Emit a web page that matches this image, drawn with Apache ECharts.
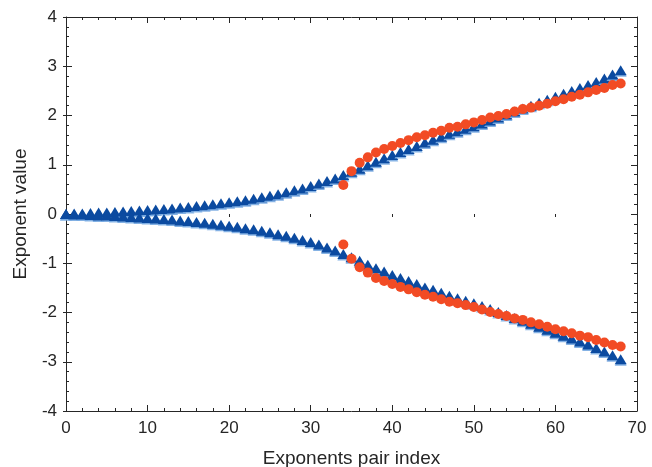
<!DOCTYPE html>
<html>
<head>
<meta charset="utf-8">
<script src="https://cdn.jsdelivr.net/npm/echarts@6/dist/echarts.min.js"></script>
<style>html,body{margin:0;padding:0;background:#fff}#c{width:652px;height:467px}</style>
</head>
<body>
<div id="c"></div>
<script>
var blueIndex = [];
for (var k = 0; k <= 68; k++) blueIndex.push(k);
var redIndex = [];
for (var k2 = 34; k2 <= 68; k2++) redIndex.push(k2);

var blueUpper = [0.00,0.01,0.01,0.02,0.03,0.03,0.04,0.05,0.06,0.07,
  0.08,0.09,0.10,0.11,0.13,0.14,0.16,0.18,0.20,0.22,
  0.24,0.26,0.28,0.31,0.34,0.37,0.40,0.44,0.48,0.52,
  0.57,0.62,0.67,0.72,0.79,0.86,0.92,0.99,1.06,1.13,
  1.20,1.26,1.32,1.38,1.45,1.51,1.57,1.63,1.68,1.73,
  1.78,1.84,1.90,1.96,2.02,2.08,2.14,2.20,2.26,2.32,
  2.38,2.44,2.50,2.56,2.62,2.68,2.75,2.83,2.92];
var blueLower = [0.00,-0.01,-0.01,-0.02,-0.03,-0.03,-0.04,-0.05,-0.06,-0.07,
  -0.08,-0.09,-0.10,-0.11,-0.13,-0.14,-0.16,-0.18,-0.20,-0.22,
  -0.24,-0.26,-0.29,-0.31,-0.34,-0.37,-0.41,-0.44,-0.48,-0.53,
  -0.57,-0.62,-0.68,-0.74,-0.81,-0.88,-0.95,-1.03,-1.10,-1.17,
  -1.24,-1.30,-1.36,-1.42,-1.49,-1.54,-1.60,-1.66,-1.71,-1.76,
  -1.81,-1.87,-1.93,-1.99,-2.05,-2.11,-2.17,-2.23,-2.29,-2.35,
  -2.41,-2.47,-2.53,-2.59,-2.65,-2.72,-2.79,-2.87,-2.95];
var redUpper = [0.59,0.87,1.04,1.15,1.25,1.32,1.38,1.44,1.50,1.56,
  1.60,1.65,1.69,1.75,1.77,1.82,1.86,1.91,1.96,1.99,
  2.03,2.08,2.13,2.16,2.20,2.24,2.29,2.33,2.38,2.42,
  2.47,2.52,2.56,2.62,2.65];
var redLower = [-0.62,-0.91,-1.08,-1.19,-1.30,-1.36,-1.42,-1.48,-1.53,-1.59,
  -1.64,-1.68,-1.73,-1.78,-1.81,-1.85,-1.89,-1.94,-1.99,-2.03,
  -2.07,-2.12,-2.15,-2.20,-2.24,-2.29,-2.34,-2.38,-2.42,-2.47,
  -2.50,-2.56,-2.61,-2.66,-2.69];

var xTicks = [0,10,20,30,40,50,60,70];
var yTicks = [-4,-3,-2,-1,0,1,2,3,4];
var xTitle = 'Exponents pair index';
var yTitle = 'Exponent value';

function pairs(xs, ys) { return xs.map(function (x, i) { return [x, ys[i]]; }); }

var axisColor = '#262626';
var fontFam = '"Liberation Sans", Arial, Helvetica, sans-serif';

var chart = echarts.init(document.getElementById('c'), null, { renderer: 'canvas' });

function xAx(pos, showLabel, extra) {
  return Object.assign({
    type: 'value', position: pos, min: xTicks[0], max: xTicks[xTicks.length - 1], interval: 10,
    axisLine: { show: true, onZero: false, lineStyle: { color: axisColor, width: 1 } },
    axisTick: { show: true, inside: true, length: 6, lineStyle: { color: axisColor } },
    minorTick: { show: true, splitNumber: 5, length: 3, lineStyle: { color: axisColor } },
    axisLabel: { show: showLabel, color: axisColor, fontSize: 17, fontFamily: fontFam, margin: 9 },
    splitLine: { show: false }
  }, extra || {});
}
function yAx(pos, showLabel, extra) {
  return Object.assign({
    type: 'value', position: pos, min: yTicks[0], max: yTicks[yTicks.length - 1], interval: 1,
    axisLine: { show: true, onZero: false, lineStyle: { color: axisColor, width: 1 } },
    axisTick: { show: true, inside: true, length: 6, lineStyle: { color: axisColor } },
    minorTick: { show: true, splitNumber: 5, length: 3, lineStyle: { color: axisColor } },
    axisLabel: { show: showLabel, color: axisColor, fontSize: 17, fontFamily: fontFam, margin: 9 },
    splitLine: { show: false }
  }, extra || {});
}
var outTicks = {
  axisLine: { show: false },
  axisTick: { show: true, inside: false, length: 3, lineStyle: { color: axisColor } },
  minorTick: { show: false },
  axisLabel: { show: false }
};

var blueStyle = { color: '#0b4aa0', opacity: 1, shadowColor: 'rgba(120,170,225,0.9)', shadowOffsetY: 1.5, shadowBlur: 0 };
var redStyle = { color: '#f24b24', opacity: 1 };

chart.setOption({
  animation: false,
  backgroundColor: '#ffffff',
  grid: { left: 66, right: 15, top: 17, bottom: 56, containLabel: false, outerBoundsMode: 'none' },
  xAxis: [
    xAx('bottom', true, { name: xTitle, nameLocation: 'middle', nameGap: 38,
      nameTextStyle: { color: axisColor, fontSize: 19, fontFamily: fontFam } }),
    xAx('top', false),
    xAx('bottom', false, outTicks)
  ],
  yAxis: [
    yAx('left', true, { name: yTitle, nameLocation: 'middle', nameGap: 36,
      nameTextStyle: { color: axisColor, fontSize: 19, fontFamily: fontFam } }),
    yAx('right', false),
    yAx('left', false, outTicks)
  ],
  series: [
    { type: 'scatter', symbol: 'triangle', symbolSize: [12, 10], data: pairs(blueIndex, blueUpper), itemStyle: blueStyle, z: 2 },
    { type: 'scatter', symbol: 'triangle', symbolSize: [12, 10], data: pairs(blueIndex, blueLower), itemStyle: blueStyle, z: 2 },
    { type: 'scatter', symbol: 'circle', symbolSize: 10, data: pairs(redIndex, redUpper), itemStyle: redStyle, z: 3 },
    { type: 'scatter', symbol: 'circle', symbolSize: 10, data: pairs(redIndex, redLower), itemStyle: redStyle, z: 3 }
  ]
});
</script>
</body>
</html>
